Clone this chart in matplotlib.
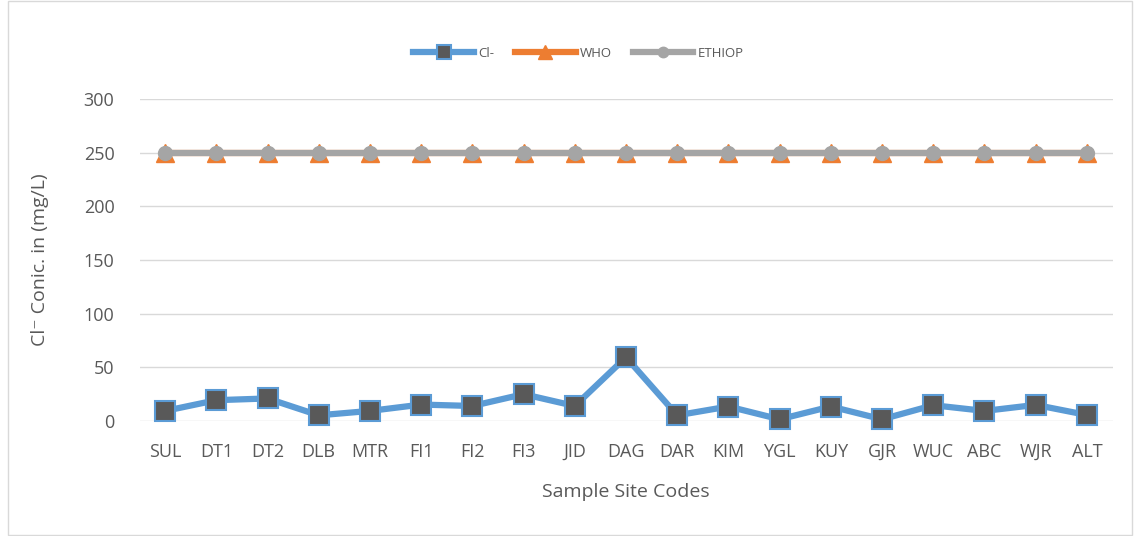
import matplotlib.pyplot as plt
from matplotlib.patches import Rectangle

# Chloride concentration per sample site (mg/L)
sites = ["SUL", "DT1", "DT2", "DLB", "MTR", "FI1", "FI2", "FI3", "JID", "DAG",
         "DAR", "KIM", "YGL", "KUY", "GJR", "WUC", "ABC", "WJR", "ALT"]
cl = [9.4, 19.4, 21.0, 5.3, 9.4, 15.3, 14.0, 25.0, 14.0, 59.4,
      5.3, 13.5, 1.6, 13.5, 1.6, 14.7, 9.4, 15.0, 5.6]
who = [250] * len(sites)
ethiop = [250] * len(sites)
yticks = [0, 50, 100, 150, 200, 250, 300]

plt.rcParams["font.family"] = ["Open Sans", "DejaVu Sans"]

fig = plt.figure(figsize=(11.34, 5.36), dpi=100)
ax = fig.add_axes([139.5 / 1134, 1 - 421 / 536, (1112.5 - 139.5) / 1134, (421 - 99) / 536])

x = range(len(sites))
ax.plot(x, cl, color="#5B9BD5", lw=4.5, marker="s", ms=14,
        markerfacecolor="#595959", markeredgecolor="#5B9BD5", markeredgewidth=1.5,
        label="Cl-", zorder=3)
ax.plot(x, who, color="#ED7D31", lw=4.5, marker="^", ms=13,
        markerfacecolor="#ED7D31", markeredgecolor="#ED7D31", label="WHO", zorder=3)
ax.plot(x, ethiop, color="#A5A5A5", lw=4.5, marker="o", ms=10,
        markerfacecolor="#A5A5A5", markeredgecolor="#A5A5A5", label="ETHIOP", zorder=4)

ax.set_xlim(-0.5, len(sites) - 0.5)
ax.set_ylim(0, 300)
ax.set_yticks(yticks)
ax.set_xticks(list(x))
ax.set_xticklabels(sites)
ax.tick_params(axis="both", length=0, labelsize=13, colors="#595959")
ax.tick_params(axis="x", pad=16)
ax.tick_params(axis="y", pad=18)
ax.grid(axis="y", color="#D9D9D9", lw=1)
ax.set_axisbelow(True)
for s in ax.spines.values():
    s.set_visible(False)
for line in ax.lines:
    line.set_clip_on(False)

ax.set_ylabel("Cl\u207b Conic. in (mg/L)", fontsize=14, color="#595959", labelpad=25)
ax.set_xlabel("Sample Site Codes", fontsize=14, color="#595959", labelpad=16)

leg = fig.legend(loc="upper center", bbox_to_anchor=(0.51, 0.935), ncol=3, frameon=False,
                 fontsize=9.5, handlelength=4.6, columnspacing=1.6, handletextpad=0.3,
                 markerscale=0.75, labelcolor="#595959")

fig.patches.append(Rectangle((8 / 1134, 0.002), 1 - 10 / 1134, 0.996,
                             transform=fig.transFigure, fill=False,
                             edgecolor="#D9D9D9", lw=1))

plt.savefig("out.png", dpi=100)
